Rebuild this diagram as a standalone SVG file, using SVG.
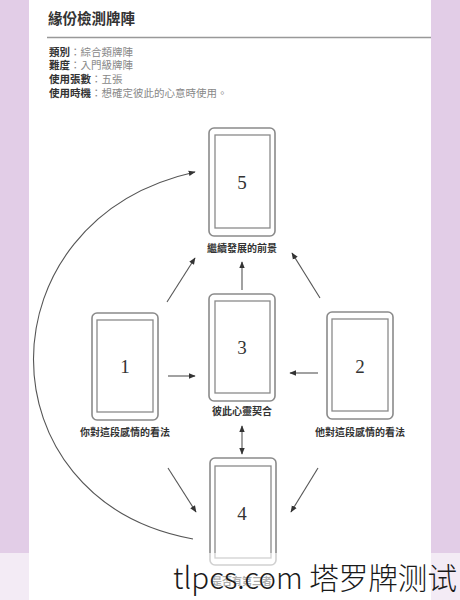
<svg xmlns="http://www.w3.org/2000/svg" width="460" height="600" viewBox="0 0 460 600">
<defs>
<style>
.cjk{font-family:"Liberation Sans","Noto Sans CJK TC","Noto Sans CJK SC",sans-serif}
.outer{fill:#fff;stroke:#8a8a8a;stroke-width:1.6}
.inner{fill:#fff;stroke:#8a8a8a;stroke-width:1.3}
.num{font-family:"Liberation Serif",serif;font-size:19px;fill:#333;text-anchor:middle}
.lbl{font-size:10px;fill:#333;font-weight:bold;text-anchor:middle}
.k{font-size:10.5px;fill:#333;font-weight:bold}
.v{fill:#888;font-weight:normal}
.arr{fill:none;stroke:#555;stroke-width:1.1;marker-end:url(#ah)}
</style>
<marker id="ah" viewBox="0 0 10 10" refX="9" refY="5" markerWidth="7" markerHeight="7" orient="auto-start-reverse" markerUnits="userSpaceOnUse">
<path d="M0,1 L10,5 L0,9 z" fill="#333"/>
</marker>
</defs>
<rect width="460" height="600" fill="#fff"/>
<rect x="0" y="0" width="29" height="600" fill="#e2cde7"/>
<rect x="431" y="0" width="29" height="600" fill="#e2cde7"/>

<g id="header">
<text x="48" y="24" class="cjk" font-size="14.5" font-weight="bold" fill="#333">緣份檢測牌陣</text>
<line x1="47" y1="37.5" x2="431" y2="37.5" stroke="#999" stroke-width="1.5"/>
<text x="49" y="56" class="cjk k">類別<tspan class="v">：綜合類牌陣</tspan></text>
<text x="49" y="69" class="cjk k">難度<tspan class="v">：入門級牌陣</tspan></text>
<text x="49" y="83" class="cjk k">使用張數<tspan class="v">：五張</tspan></text>
<text x="49" y="97" class="cjk k">使用時機<tspan class="v">：想確定彼此的心意時使用。</tspan></text>
</g>

<g id="connectors">
<path class="arr" d="M193,539 C-20,500 -20,220 195,172"/>
<line class="arr" x1="168" y1="376" x2="195" y2="376"/>
<line class="arr" x1="318" y1="373" x2="290" y2="373"/>
<line class="arr" x1="242" y1="290" x2="242" y2="262"/>
<line class="arr" x1="167" y1="302" x2="195" y2="258"/>
<line class="arr" x1="320" y1="298" x2="292" y2="253"/>
<line class="arr" x1="242" y1="426" x2="242" y2="454" marker-start="url(#ah)"/>
<line class="arr" x1="168" y1="468" x2="196" y2="512"/>
<line class="arr" x1="318" y1="468" x2="291" y2="512"/>
</g>

<g id="card5">
<rect class="outer" x="209" y="128" width="66" height="108" rx="5"/>
<rect class="inner" x="215" y="135" width="55" height="93"/>
<text class="num" x="242" y="189">5</text>
<text class="cjk lbl" x="242" y="252">繼續發展的前景</text>
</g>
<g id="card3">
<rect class="outer" x="209" y="294" width="66" height="107" rx="5"/>
<rect class="inner" x="215" y="301" width="55" height="92"/>
<text class="num" x="242" y="354">3</text>
<text class="cjk lbl" x="242" y="415">彼此心靈契合</text>
</g>
<g id="card1">
<rect class="outer" x="92" y="313" width="66" height="107" rx="5"/>
<rect class="inner" x="97" y="320" width="56" height="92"/>
<text class="num" x="125" y="373">1</text>
<text class="cjk lbl" x="125" y="436">你對這段感情的看法</text>
</g>
<g id="card2">
<rect class="outer" x="327" y="312" width="66" height="107" rx="5"/>
<rect class="inner" x="332" y="319" width="56" height="92"/>
<text class="num" x="360" y="373">2</text>
<text class="cjk lbl" x="360" y="436">他對這段感情的看法</text>
</g>
<g id="card4">
<rect class="outer" x="210" y="458" width="66" height="107" rx="5"/>
<rect class="inner" x="215" y="466" width="56" height="92"/>
<text class="num" x="242" y="520">4</text>
<text class="cjk lbl" x="242" y="585">是否有第三者</text>
</g>

<rect x="0" y="553" width="460" height="47" fill="#fff" fill-opacity="0.6"/>
<text x="173" y="589" font-family="'Noto Sans CJK SC','Noto Sans',sans-serif" font-size="30" font-weight="300" fill="#1a1a1a" textLength="284" lengthAdjust="spacingAndGlyphs">tlpcs.com 塔罗牌测试</text>
</svg>
